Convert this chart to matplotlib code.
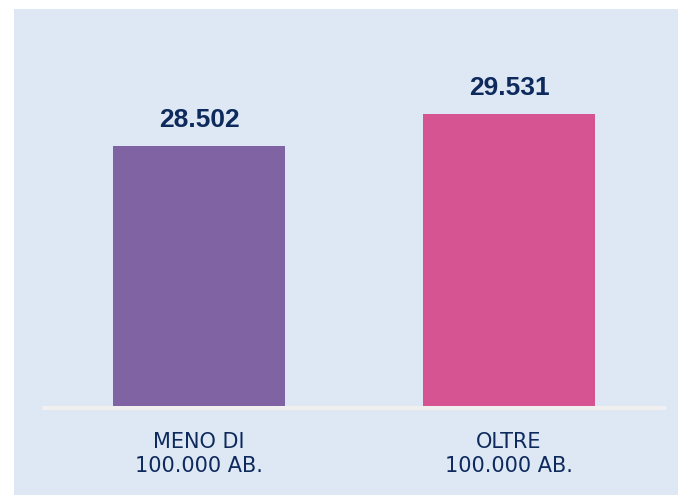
import matplotlib
matplotlib.use("Agg")
import matplotlib.pyplot as plt
from matplotlib.patches import Rectangle

# ── Données ────────────────────────────────────────────────
categories = ["MENO DI\n100.000 AB.", "OLTRE\n100.000 AB."]
values = [28502, 29531]
value_labels = ["28.502", "29.531"]
bar_colors = ["#7f63a3", "#d65491"]

BG = "#dde8f4"
NAVY = "#0e2a5c"

fig = plt.figure(figsize=(6.78, 4.95), dpi=100)
fig.patch.set_facecolor("white")
# panneau bleu clair (marge blanche à gauche et en haut)
fig.patches.append(Rectangle((14 / 678, 0), 1 - 14 / 678, 1 - 9 / 495,
                             transform=fig.transFigure, facecolor=BG,
                             edgecolor="none", zorder=-1))

ax = fig.add_axes([44 / 678, 87 / 495, 620 / 678, 388 / 495])
ax.set_facecolor("none")

x = range(len(categories))
ax.bar(x, values, width=0.554, color=bar_colors, zorder=2)
ax.set_xlim(-0.5, 1.5)
ax.set_ylim(20077, 32553)          # axe tronqué comme dans l'original

for xi, v, lab in zip(x, values, value_labels):
    ax.annotate(lab, (xi, v), xytext=(0, 10), textcoords="offset points",
                ha="center", va="bottom", fontsize=19, fontweight="bold",
                color=NAVY, family="Liberation Sans")

ax.set_xticks(list(x), categories)
ax.tick_params(axis="x", length=0, pad=17, labelsize=15, labelcolor=NAVY)
for t in ax.get_xticklabels():
    t.set_linespacing(1.25)
ax.set_yticks([])

for s in ["top", "left", "right"]:
    ax.spines[s].set_visible(False)
ax.spines["bottom"].set_color("#f0f0f0")
ax.spines["bottom"].set_linewidth(2.9)
ax.spines["bottom"].set_zorder(3)

fig.savefig("out.png", dpi=100)
